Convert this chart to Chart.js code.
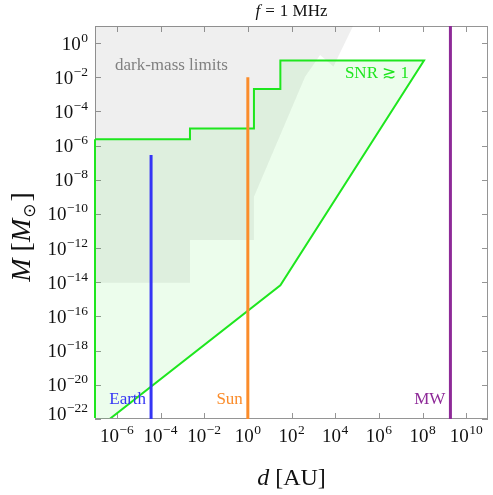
<!DOCTYPE html>
<html>
<head>
<meta charset="utf-8">
<script src="https://cdn.jsdelivr.net/npm/chart.js@4.4.1/dist/chart.umd.min.js"></script>
<style>
  html, body { margin: 0; padding: 0; background: #fff; }
  canvas { display: block; }
</style>
</head>
<body>
<canvas id="chartReach" width="493" height="495"></canvas>
<script>
// tick values, every second decade
const xTicks = [1e-6, 1e-4, 1e-2, 1e0, 1e2, 1e4, 1e6, 1e8, 1e10];
const yTicks = [1e-22, 1e-20, 1e-18, 1e-16, 1e-14, 1e-12, 1e-10, 1e-8, 1e-6, 1e-4, 1e-2, 1e0];

// SNR >~ 1 region, closed outline (d in AU, M in solar masses)
const snrD = [1e-7, 2.24e-3, 2.24e-3, 1.905, 1.905, 30.9, 30.9, 1.17e8, 30.9, 4.7e-7, 1e-7, 1e-7];
const snrM = [2.34e-6, 2.34e-6, 1.0e-5, 1.0e-5, 2.04e-3, 2.04e-3, 0.095, 0.095, 6.6e-15, 1e-22, 1e-22, 2.34e-6];

// dark-mass limits, closed outline
const limD = [1e-7, 6.6e4, 8.3e3, 2.04e3, 417, 1.905, 1.905, 2.24e-3, 2.24e-3, 1e-7, 1e-7];
const limM = [10, 10, 0.042, 0.2, 0.0107, 1.02e-9, 3.0e-12, 3.0e-12, 9.5e-15, 9.5e-15, 10];

// reference objects
const objNames = ['Earth', 'Sun', 'MW'];
const objD = [3.7e-5, 1, 1.9e9];
const objM = [2.8e-7, 1e-2, 10];
const objColors = ['#3535f5', '#fb8c2a', '#8e2a98'];

const M_MIN = 1e-22;
const green = '#1ee61e';
const serif = '"Liberation Serif", "DejaVu Serif", serif';

const pts = (xs, ys) => xs.map((x, i) => ({ x: x, y: ys[i] }));

const sup = s => s.replace('-', '\u2212');

function drawRuns(ctx, runs, x, y, align) {
  let w = 0;
  runs.forEach(r => { ctx.font = r.font; r.w = ctx.measureText(r.t).width + (r.gap || 0); w += r.w; });
  let cx = align === 'center' ? x - w / 2 : align === 'right' ? x - w : x;
  runs.forEach(r => {
    ctx.font = r.font;
    ctx.fillText(r.t, cx, y + (r.dy || 0));
    cx += r.w;
  });
}

function pow10(v) {
  const e = Math.round(Math.log10(v));
  return [
    { t: '10', font: '19px ' + serif, gap: 0.5 },
    { t: sup(String(e)), font: '13.5px ' + serif, dy: -8 }
  ];
}

const frame = {
  id: 'frame',
  beforeDatasetsDraw(chart) {
    const { ctx, chartArea: a, scales } = chart;
    ctx.save();
    ctx.strokeStyle = '#959595';
    ctx.lineWidth = 1;
    ctx.strokeRect(a.left + 0.5, a.top + 0.5, a.right - a.left - 1, a.bottom - a.top - 1);
    ctx.beginPath();
    xTicks.forEach(v => {
      const px = Math.round(scales.x.getPixelForValue(v)) + 0.5;
      ctx.moveTo(px, a.bottom); ctx.lineTo(px, a.bottom - 6);
      ctx.moveTo(px, a.top); ctx.lineTo(px, a.top + 6);
    });
    yTicks.forEach(v => {
      const py = Math.round(scales.y.getPixelForValue(v)) + 0.5;
      ctx.moveTo(a.left, py); ctx.lineTo(a.left + 6, py);
      ctx.moveTo(a.right, py); ctx.lineTo(a.right - 6, py);
    });
    ctx.stroke();
    ctx.restore();
  },
  afterDatasetsDraw(chart) {
    const { ctx, chartArea: a, scales } = chart;
    ctx.save();
    ctx.textAlign = 'left';
    ctx.textBaseline = 'alphabetic';

    // tick labels
    ctx.fillStyle = '#111';
    xTicks.forEach(v => drawRuns(ctx, pow10(v), scales.x.getPixelForValue(v), a.bottom + 23, 'center'));
    yTicks.forEach(v => drawRuns(ctx, pow10(v), a.left - 7, Math.min(scales.y.getPixelForValue(v) + 6.5, a.bottom + 1), 'right'));

    // axis titles
    const cx = (a.left + a.right) / 2;
    drawRuns(ctx, [
      { t: 'd', font: 'italic 24px ' + serif, gap: 6 },
      { t: '[AU]', font: '24px ' + serif }
    ], cx, a.bottom + 66, 'center');

    ctx.save();
    ctx.translate(30, 237);
    ctx.rotate(-Math.PI / 2);
    drawRuns(ctx, [
      { t: 'M', font: 'italic 28px ' + serif, gap: 7 },
      { t: '[', font: '28px ' + serif },
      { t: 'M', font: 'italic 28px ' + serif, gap: 1 },
      { t: '\u2299', font: '17px "DejaVu Sans", sans-serif', dy: 5, gap: 2 },
      { t: ']', font: '28px ' + serif }
    ], 0, 0, 'center');
    ctx.restore();

    drawRuns(ctx, [
      { t: 'f', font: 'italic 17px ' + serif, gap: 5 },
      { t: '=', font: '17px ' + serif, gap: 5 },
      { t: '1 MHz', font: '17px ' + serif }
    ], cx, 16, 'center');

    // region labels
    ctx.fillStyle = '#808080';
    ctx.font = '17px ' + serif;
    ctx.fillText('dark-mass limits', a.left + 20, 70);

    ctx.fillStyle = green;
    ctx.font = '17px ' + serif;
    ctx.textAlign = 'right';
    ctx.fillText('SNR \u2273 1', scales.x.getPixelForValue(1.17e8) - 15, 78);

    // object labels
    objNames.forEach((n, i) => {
      ctx.fillStyle = objColors[i];
      ctx.fillText(n, scales.x.getPixelForValue(objD[i]) - 5, a.bottom - 15);
    });
    ctx.restore();
  }
};

const datasets = objNames.map((n, i) => ({
  label: n,
  data: pts([objD[i], objD[i]], [M_MIN, objM[i]]),
  showLine: true,
  borderColor: objColors[i],
  borderWidth: 3,
  pointRadius: 0,
  fill: false,
  order: 0
}));

datasets.push({
  label: 'SNR',
  data: pts(snrD, snrM),
  showLine: true,
  borderColor: green,
  borderWidth: 2,
  backgroundColor: 'rgba(40, 230, 40, 0.09)',
  fill: 'shape',
  pointRadius: 0,
  clip: { left: 2, top: 0, right: 0, bottom: -1 },
  order: 1
});

datasets.push({
  label: 'limits',
  data: pts(limD, limM),
  showLine: true,
  borderWidth: 0,
  borderColor: 'rgba(0,0,0,0)',
  backgroundColor: 'rgba(100, 100, 100, 0.1)',
  fill: 'shape',
  pointRadius: 0,
  order: 2
});

new Chart(document.getElementById('chartReach'), {
  type: 'scatter',
  data: { datasets: datasets },
  options: {
    responsive: false,
    animation: false,
    devicePixelRatio: 1,
    layout: { padding: { left: 95, right: 5, top: 26, bottom: 76 } },
    plugins: {
      legend: { display: false },
      tooltip: { enabled: false },
      title: { display: false }
    },
    scales: {
      x: {
        type: 'logarithmic',
        min: 1e-7,
        max: 1e11,
        afterBuildTicks: s => { s.ticks = xTicks.map(v => ({ value: v })); },
        ticks: { display: false },
        grid: { display: false, drawTicks: false },
        border: { display: false }
      },
      y: {
        type: 'logarithmic',
        min: 1e-22,
        max: 10,
        afterBuildTicks: s => { s.ticks = yTicks.map(v => ({ value: v })); },
        ticks: { display: false },
        grid: { display: false, drawTicks: false },
        border: { display: false }
      }
    }
  },
  plugins: [frame]
});
</script>
</body>
</html>
